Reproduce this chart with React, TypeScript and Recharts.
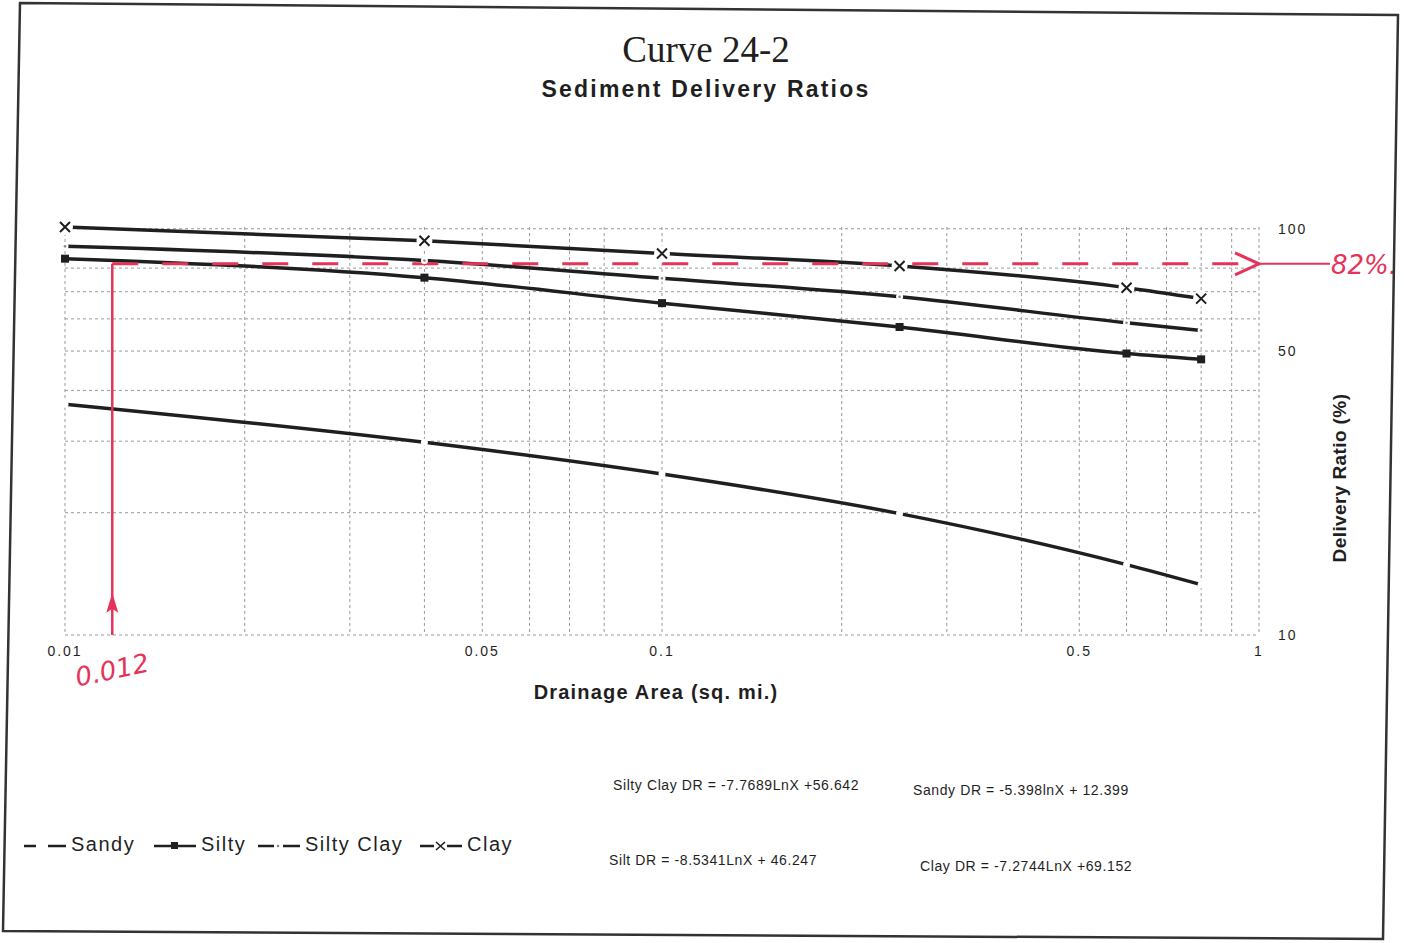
import {
  LineChart,
  Line,
  XAxis,
  YAxis,
  CartesianGrid,
  ReferenceLine,
  ReferenceDot,
} from "recharts";

// drainage area (sq. mi.) at each plotted point
const areas = [0.01, 0.04, 0.1, 0.25, 0.6, 0.8];

// delivery ratio (%)
const sandy = [37.0, 29.8, 24.9, 19.9, 14.9, 13.3];
const silty = [84.4, 75.8, 65.6, 57.3, 49.3, 47.7];
const siltyClay = [90.5, 83.5, 75.5, 68.0, 58.7, 56.2];
const clay = [101.0, 93.4, 86.9, 81.0, 71.6, 67.3];

const xTicks = [0.01, 0.05, 0.1, 0.5, 1];
const yTicks = [10, 50, 100];
const xGrid = [
  0.01, 0.02, 0.03, 0.04, 0.05, 0.06, 0.07, 0.08, 0.09,
  0.1, 0.2, 0.3, 0.4, 0.5, 0.6, 0.7, 0.8, 0.9, 1,
];
const yGrid = [10, 20, 30, 40, 50, 60, 70, 80, 90, 100];

// hand-drawn reading on the scan
const readArea = 0.012;
const readRatio = 82;
const arrowTipRatio = 12.7;
const arrowEndArea = 1.315;

const equations = [
  "Silty Clay DR = -7.7689LnX +56.642",
  "Sandy DR = -5.398lnX + 12.399",
  "Silt DR = -8.5341LnX + 46.247",
  "Clay DR = -7.2744LnX +69.152",
];

const INK = "#1f1f1f";
const RED = "#e5335a";
const SANS = '"Liberation Sans", Arial, sans-serif';

const rows = areas.map((a, i) => ({
  area: a,
  sandy: sandy[i],
  silty: silty[i],
  siltyClay: siltyClay[i],
  clay: clay[i],
}));

type DotProps = { cx?: number; cy?: number; index?: number };

const SandyDot = ({ cx, cy, index }: DotProps) =>
  cx == null || cy == null ? (
    <g key={index} />
  ) : (
    <circle key={index} cx={cx} cy={cy} r={3.5} fill="#fff" />
  );

const SiltyDot = ({ cx, cy, index }: DotProps) =>
  cx == null || cy == null ? (
    <g key={index} />
  ) : (
    <rect key={index} x={cx - 4} y={cy - 4} width={8} height={8} fill={INK} />
  );

const SiltyClayDot = ({ cx, cy, index }: DotProps) =>
  cx == null || cy == null ? (
    <g key={index} />
  ) : (
    <g key={index}>
      <circle cx={cx} cy={cy} r={3.5} fill="#fff" />
      <circle cx={cx} cy={cy} r={1.3} fill="#888" />
    </g>
  );

const ClayDot = ({ cx, cy, index }: DotProps) =>
  cx == null || cy == null ? (
    <g key={index} />
  ) : (
    <g key={index}>
      <circle cx={cx} cy={cy} r={8} fill="#fff" />
      <path
        d={`M${cx - 5},${cy - 5}L${cx + 5},${cy + 5}M${cx + 5},${cy - 5}L${cx - 5},${cy + 5}`}
        stroke={INK}
        strokeWidth={2}
      />
    </g>
  );

const XTick = (p: any) => (
  <text
    x={p.x}
    y={p.y + 13}
    textAnchor="middle"
    fontSize={14}
    letterSpacing={2}
    fill={INK}
    fontFamily={SANS}
  >
    {p.payload.value}
  </text>
);

const YTick = (p: any) => (
  <text
    x={p.x + 11}
    y={p.y + 5}
    textAnchor="start"
    fontSize={14}
    letterSpacing={2}
    fill={INK}
    fontFamily={SANS}
  >
    {p.payload.value}
  </text>
);

function LegendSample({ kind }: { kind: string }) {
  return (
    <svg width={46} height={20} style={{ marginRight: 3 }}>
      {kind === "sandy" ? (
        <>
          <line x1={2} x2={14} y1={11} y2={11} stroke={INK} strokeWidth={2.5} />
          <line x1={26} x2={44} y1={11} y2={11} stroke={INK} strokeWidth={2.5} />
        </>
      ) : (
        <line x1={2} x2={44} y1={11} y2={11} stroke={INK} strokeWidth={2.5} />
      )}
      {kind === "silty" && <rect x={19} y={7} width={7} height={7} fill={INK} />}
      {kind === "siltyClay" && (
        <>
          <rect x={18} y={8} width={9} height={6} fill="#fff" />
          <circle cx={22} cy={11} r={1.3} fill="#888" />
        </>
      )}
      {kind === "clay" && (
        <>
          <rect x={16} y={5} width={13} height={12} fill="#fff" />
          <path d="M18,7L27,15M27,7L18,15" stroke={INK} strokeWidth={1.6} />
        </>
      )}
    </svg>
  );
}

const legendItems = [
  { kind: "sandy", label: "Sandy", left: 22 },
  { kind: "silty", label: "Silty", left: 152 },
  { kind: "siltyClay", label: "Silty Clay", left: 256 },
  { kind: "clay", label: "Clay", left: 418 },
];

const eqPos = [
  { left: 613, top: 777 },
  { left: 913, top: 782 },
  { left: 609, top: 852 },
  { left: 920, top: 858 },
];

export default function App() {
  return (
    <div
      style={{
        position: "absolute",
        left: 0,
        top: 0,
        width: 1404,
        height: 943,
        background: "#fff",
        fontFamily: SANS,
        color: INK,
        overflow: "hidden",
      }}
    >
      <LineChart
        width={1404}
        height={943}
        data={rows}
        margin={{ top: 227, right: 105, left: 65, bottom: 278 }}
      >
        <CartesianGrid
          stroke="#9a9a9a"
          strokeDasharray="3 3"
          horizontalValues={yGrid}
          verticalValues={xGrid}
        />
        <XAxis
          dataKey="area"
          type="number"
          scale="log"
          domain={[0.01, 1]}
          ticks={xTicks}
          tick={XTick}
          tickLine={false}
          axisLine={false}
          height={30}
        />
        <YAxis
          orientation="right"
          type="number"
          scale="log"
          domain={[10, 100]}
          ticks={yTicks}
          tick={YTick}
          tickLine={false}
          axisLine={false}
          width={40}
        />
        <Line
          type="monotone"
          dataKey="sandy"
          stroke={INK}
          strokeWidth={3.5}
          dot={(p: any) => <SandyDot key={p.index} {...p} />}
          isAnimationActive={false}
        />
        <Line
          type="monotone"
          dataKey="silty"
          stroke={INK}
          strokeWidth={3.5}
          dot={(p: any) => <SiltyDot key={p.index} {...p} />}
          isAnimationActive={false}
        />
        <Line
          type="monotone"
          dataKey="siltyClay"
          stroke={INK}
          strokeWidth={3.5}
          dot={(p: any) => <SiltyClayDot key={p.index} {...p} />}
          isAnimationActive={false}
        />
        <Line
          type="monotone"
          dataKey="clay"
          stroke={INK}
          strokeWidth={3.5}
          dot={(p: any) => <ClayDot key={p.index} {...p} />}
          isAnimationActive={false}
        />

        {/* red pen reading: 0.012 sq. mi. -> 82% */}
        <ReferenceLine
          segment={[
            { x: readArea, y: 10 },
            { x: readArea, y: readRatio },
          ]}
          stroke={RED}
          strokeWidth={2.5}
          ifOverflow="visible"
        />
        <ReferenceLine
          segment={[
            { x: readArea, y: readRatio },
            { x: 1, y: readRatio },
          ]}
          stroke={RED}
          strokeWidth={3}
          strokeDasharray="26 24"
          ifOverflow="visible"
        />
        <ReferenceLine
          segment={[
            { x: 1, y: readRatio },
            { x: arrowEndArea, y: readRatio },
          ]}
          stroke={RED}
          strokeWidth={2}
          ifOverflow="visible"
        />
        <ReferenceDot
          x={1}
          y={readRatio}
          ifOverflow="visible"
          shape={(p: any) => (
            <path
              d={`M${p.cx - 24},${p.cy - 11}L${p.cx},${p.cy}L${p.cx - 24},${p.cy + 11}`}
              fill="none"
              stroke={RED}
              strokeWidth={3}
            />
          )}
        />
        <ReferenceDot
          x={readArea}
          y={arrowTipRatio}
          ifOverflow="visible"
          shape={(p: any) => (
            <path
              d={`M${p.cx},${p.cy}L${p.cx - 6},${p.cy + 20}L${p.cx},${p.cy + 16}L${p.cx + 6},${p.cy + 20}Z`}
              fill={RED}
            />
          )}
        />
        <ReferenceDot
          x={arrowEndArea}
          y={readRatio}
          ifOverflow="visible"
          shape={(p: any) => (
            <text
              x={p.cx + 1}
              y={p.cy + 10}
              fill={RED}
              fontSize={26}
              fontStyle="italic"
              fontFamily='"DejaVu Sans", sans-serif'
            >
              82%.
            </text>
          )}
        />
        <ReferenceDot
          x={readArea}
          y={10}
          ifOverflow="visible"
          shape={(p: any) => (
            <text
              x={p.cx}
              y={p.cy + 44}
              fill={RED}
              fontSize={26}
              fontStyle="italic"
              textAnchor="middle"
              fontFamily='"DejaVu Sans", sans-serif'
              transform={`rotate(-12 ${p.cx} ${p.cy + 36})`}
            >
              0.012
            </text>
          )}
        />
      </LineChart>

      {/* scanned page frame */}
      <svg
        width={1404}
        height={943}
        style={{ position: "absolute", left: 0, top: 0, pointerEvents: "none" }}
      >
        <polygon
          points="20,3 1398,15 1383,939 3,931"
          fill="none"
          stroke="#333"
          strokeWidth={2.5}
        />
      </svg>

      <div
        style={{
          position: "absolute",
          left: 706,
          top: 49,
          transform: "translate(-50%, -50%)",
          fontFamily: '"Liberation Serif", "Times New Roman", serif',
          fontSize: 37,
          whiteSpace: "nowrap",
        }}
      >
        Curve 24-2
      </div>
      <div
        style={{
          position: "absolute",
          left: 706,
          top: 89,
          transform: "translate(-50%, -50%)",
          fontSize: 23,
          fontWeight: 700,
          letterSpacing: 2.2,
          whiteSpace: "nowrap",
        }}
      >
        Sediment Delivery Ratios
      </div>

      <div
        style={{
          position: "absolute",
          left: 656,
          top: 692,
          transform: "translate(-50%, -50%)",
          fontSize: 20,
          fontWeight: 700,
          letterSpacing: 1.2,
          whiteSpace: "nowrap",
        }}
      >
        Drainage Area (sq. mi.)
      </div>
      <div
        style={{
          position: "absolute",
          left: 1340,
          top: 478,
          transform: "translate(-50%, -50%) rotate(-90deg)",
          fontSize: 19,
          fontWeight: 700,
          letterSpacing: 0.4,
          whiteSpace: "nowrap",
        }}
      >
        Delivery Ratio (%)
      </div>

      {legendItems.map((it) => (
        <div
          key={it.kind}
          style={{
            position: "absolute",
            left: it.left,
            top: 833,
            display: "flex",
            alignItems: "center",
            fontSize: 20,
            letterSpacing: 1.5,
            whiteSpace: "nowrap",
          }}
        >
          <LegendSample kind={it.kind} />
          {it.label}
        </div>
      ))}

      {equations.map((eq, i) => (
        <div
          key={eq}
          style={{
            position: "absolute",
            left: eqPos[i].left,
            top: eqPos[i].top,
            fontSize: 14,
            letterSpacing: 0.6,
            lineHeight: "16px",
            whiteSpace: "nowrap",
          }}
        >
          {eq}
        </div>
      ))}
    </div>
  );
}
